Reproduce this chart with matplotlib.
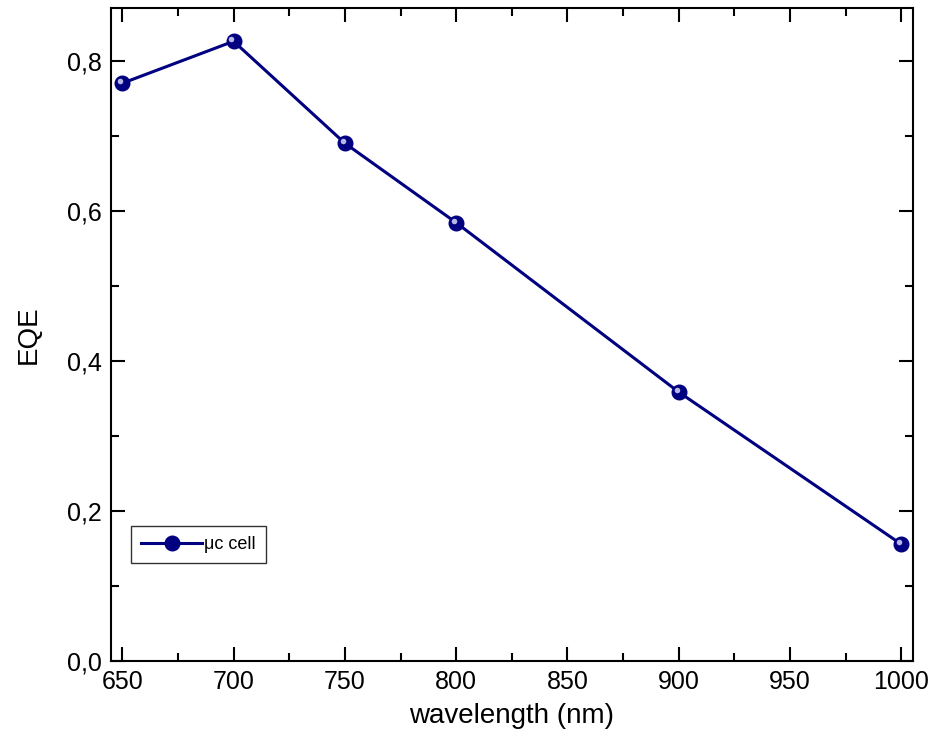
import matplotlib.pyplot as plt
from matplotlib.ticker import MultipleLocator, FuncFormatter
from matplotlib.transforms import ScaledTranslation

plt.rcParams['font.family'] = ['Liberation Sans', 'DejaVu Sans']

wavelength = [650, 700, 750, 800, 900, 1000]
eqe = [0.770, 0.826, 0.690, 0.584, 0.358, 0.155]
series_label = 'μc cell'
navy = '#000080'

fig = plt.figure(figsize=(9.34, 7.54), dpi=100)
ax = fig.add_axes([0.119, 0.124, 0.858, 0.865])

ax.plot(wavelength, eqe, color=navy, lw=2.2, marker='o', markersize=10.5,
        markerfacecolor=navy, markeredgecolor=navy, label=series_label)
# small highlight to mimic the shaded spheres
hl = ax.transData + ScaledTranslation(-1.5 / 72, 1.5 / 72, fig.dpi_scale_trans)
ax.plot(wavelength, eqe, ls='none', marker='o', markersize=4,
        markerfacecolor='#b8b8e8', markeredgecolor='none', transform=hl)

ax.set_xlim(645, 1005)
ax.set_ylim(0, 0.87)
ax.xaxis.set_major_locator(MultipleLocator(50))
ax.xaxis.set_minor_locator(MultipleLocator(25))
ax.yaxis.set_major_locator(MultipleLocator(0.2))
ax.yaxis.set_minor_locator(MultipleLocator(0.1))
ax.yaxis.set_major_formatter(FuncFormatter(lambda v, p: f'{v:.1f}'.replace('.', ',')))

ax.tick_params(which='both', direction='in', top=True, right=True, width=1.5,
               labelsize=18, colors='black')
ax.tick_params(which='major', length=10, pad=7)
ax.tick_params(which='minor', length=5.5)
for s in ax.spines.values():
    s.set_linewidth(1.5)

ax.set_xlabel('wavelength (nm)', fontsize=20, labelpad=6)
ax.set_ylabel('EQE', fontsize=20, labelpad=18)

leg = ax.legend(loc='lower left', bbox_to_anchor=(0.025, 0.149), fontsize=13,
                frameon=True, fancybox=False, edgecolor='black', handlelength=3.4,
                handletextpad=0.1, borderpad=0.55, borderaxespad=0)
leg.get_frame().set_linewidth(1.0)

fig.savefig('out.png', dpi=100)
